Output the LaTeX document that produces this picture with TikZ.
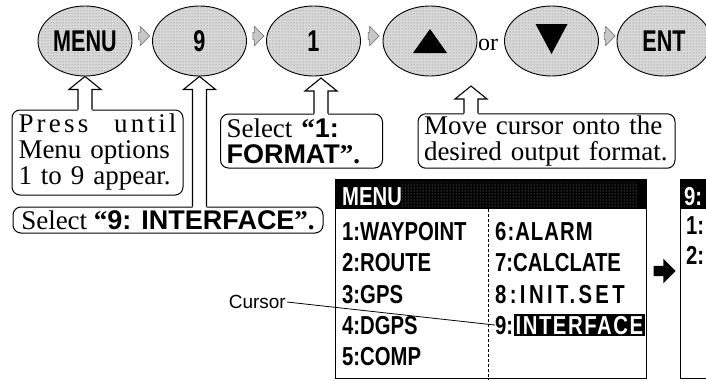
\documentclass[tikz,border=0pt]{standalone}
\usepackage{fontspec}
\setmainfont{Liberation Serif}
\newfontfamily\sansfont{Liberation Sans}
\newfontfamily\keyfont[FakeStretch=0.72]{Liberation Sans}
\newfontfamily\lcdfont[FakeStretch=0.78]{Liberation Sans}
\usetikzlibrary{shapes.geometric,shapes.arrows,patterns,calc}

\newcommand\bsans[1]{{\sansfont\bfseries #1}}
% open pointer from a callout box up to a key
\newcommand\hollowup[2]{%
  \fill[white] let \p1=(#1), \p2=(#2.north) in
    (\x1-7pt,\y2-1.5pt) -- (\x1-7pt,\y1-13pt) -- (\x1-16pt,\y1-13pt) -- (\x1,\y1)
    -- (\x1+16pt,\y1-13pt) -- (\x1+7pt,\y1-13pt) -- (\x1+7pt,\y2-1.5pt) -- cycle;
  \draw[pointer] let \p1=(#1), \p2=(#2.north) in
    (\x1-7pt,\y2) -- (\x1-7pt,\y1-13pt) -- (\x1-16pt,\y1-13pt) -- (\x1,\y1)
    -- (\x1+16pt,\y1-13pt) -- (\x1+7pt,\y1-13pt) -- (\x1+7pt,\y2);}

\begin{document}
\begin{tikzpicture}[x=1pt, y=-1pt,
    key/.style={ellipse, draw, line width=0.9pt, preaction={fill=black!15},
                pattern=dots, pattern color=black!55,
                minimum width=94pt, minimum height=70pt, inner sep=0pt,
                font=\keyfont\bfseries\fontsize{30}{30}\selectfont},
    stepmark/.style={single arrow, draw=black!60, fill=black!22, line width=0.5pt,
                minimum height=11pt, inner sep=3.5pt, single arrow head extend=6pt},
    callout/.style={draw, line width=1pt, rounded corners=8pt, fill=white,
                align=left, inner xsep=6pt, inner ysep=2pt,
                font=\fontsize{27}{26}\selectfont},
    pointer/.style={line width=1.1pt, line join=miter},
    screen/.style={draw, line width=1.1pt, anchor=north west, minimum height=199pt},
    item/.style={anchor=base west, inner sep=0pt,
                font=\lcdfont\bfseries\fontsize{26}{26}\selectfont},
    hilite/.style={item, fill=black, text=white, inner sep=2pt},
]
    \useasboundingbox (0,0) rectangle (706,380);

    % keys along the top
    \node[key] (menu) at (85,41) {MENU};
    \node[key] (nine) at (199.5,41) {9};
    \node[key] (one) at (313.5,41) {1};
    \node[key] (up) at (430,41) {};
    \node[key] (down) at (551.5,41) {};
    \node[key] (ent) at (664,41) {ENT};
    \fill ($(up.center)+(-17,12)$) -- ($(up.center)+(17,12)$) -- ($(up.center)+(0,-12)$) -- cycle;
    \fill ($(down.center)+(-16,-17)$) -- ($(down.center)+(16,-17)$) -- ($(down.center)+(0,13)$) -- cycle;
    \node[font=\fontsize{24}{24}\selectfont, anchor=base, inner sep=0pt] (or) at (488,50) {or};

    \node[stepmark] (s1) at ($(menu.east)!0.5!(nine.west)+(0,-5)$) {};
    \node[stepmark] (s2) at ($(nine.east)!0.5!(one.west)+(0,-5)$) {};
    \node[stepmark] (s3) at ($(one.east)!0.5!(up.west)+(0,-5)$) {};
    \node[stepmark] (s4) at ($(down.east)!0.5!(ent.west)+(0,-5)$) {};

    % callouts
    \node[callout, text width=158pt, inner xsep=6.5pt, minimum height=85pt] (press) at (97.5,152.5)
        {{\addfontfeatures{LetterSpace=12}Press\hfill until}\\Menu options\\1 to 9 appear.};
    \node[callout, text width=150pt, minimum height=54pt] (sel1) at (301.5,141)
        {Select \textbf{“}\bsans{1:}\\\bsans{FORMAT}\textbf{”.}};
    \node[callout, text width=245pt, minimum height=54pt] (move) at (546.5,141)
        {Move cursor onto the\\desired output format.};
    \node[callout, inner ysep=1pt, minimum width=310pt, minimum height=26pt] (sel9) at (168,220)
        {Select \textbf{“}\bsans{9: INTERFACE}\textbf{”.}};

    \coordinate (onetip) at (321,78);
    \coordinate (movetip) at (471,86);
    \hollowup{menu.south}{press}
    \hollowup{nine.south}{sel9}
    \hollowup{onetip}{sel1}
    \hollowup{movetip}{move}

    % menu screen
    \node[screen, minimum width=311pt] (scr) at (335,179) {};
    \fill (scr.north west) rectangle ($(scr.north east)+(0,30)$);
    \fill[pattern=dots, pattern color=black!35] ($(scr.north west)+(66,3)$) rectangle ($(scr.north east)+(-10,27)$);
    \node[item, text=white] (mtitle) at (342,205) {MENU};
    \draw[dash pattern=on 3pt off 2pt, line width=0.9pt] ($(scr.north west)+(153,30)$) -- ($(scr.south west)+(153,0)$);

    \node[item] (l1) at (342,240) {1:WAYPOINT};
    \node[item] (l2) at (342,271) {2:ROUTE};
    \node[item] (l3) at (342,303) {3:GPS};
    \node[item] (l4) at (342,334) {4:DGPS};
    \node[item] (l5) at (342,365) {5:COMP};
    \node[item] (r6) at (495,240) {\addfontfeatures{LetterSpace=4}6:ALARM};
    \node[item] (r7) at (495,271) {7:CALCLATE};
    \node[item] (r8) at (495,303) {\addfontfeatures{LetterSpace=13}8:INIT.SET};
    \node[item] (r9) at (495,334) {9:};
    \node[hilite] (iface) at (r9.base east) {\addfontfeatures{LetterSpace=6}INTERFACE};

    \node[font=\sansfont\fontsize{19}{19}\selectfont, anchor=east, inner sep=1pt] (cursor) at (287,302) {Cursor};
    \draw[line width=0.8pt] (cursor.east) -- (r9.west);

    \node[single arrow, fill=black, minimum height=22pt, inner sep=5pt,
          single arrow head extend=7pt] (next) at (662,271) {};

    % next screen, cut off at the edge
    \node[screen, minimum width=60pt] (scr2) at (680,179) {};
    \fill (scr2.north west) rectangle ($(scr2.north east)+(0,30)$);
    \node[item, text=white] (t2) at (684,205) {9:};
    \node[item] (a1) at (686,234) {1:};
    \node[item] (a2) at (686,264) {2:};
\end{tikzpicture}
\end{document}
